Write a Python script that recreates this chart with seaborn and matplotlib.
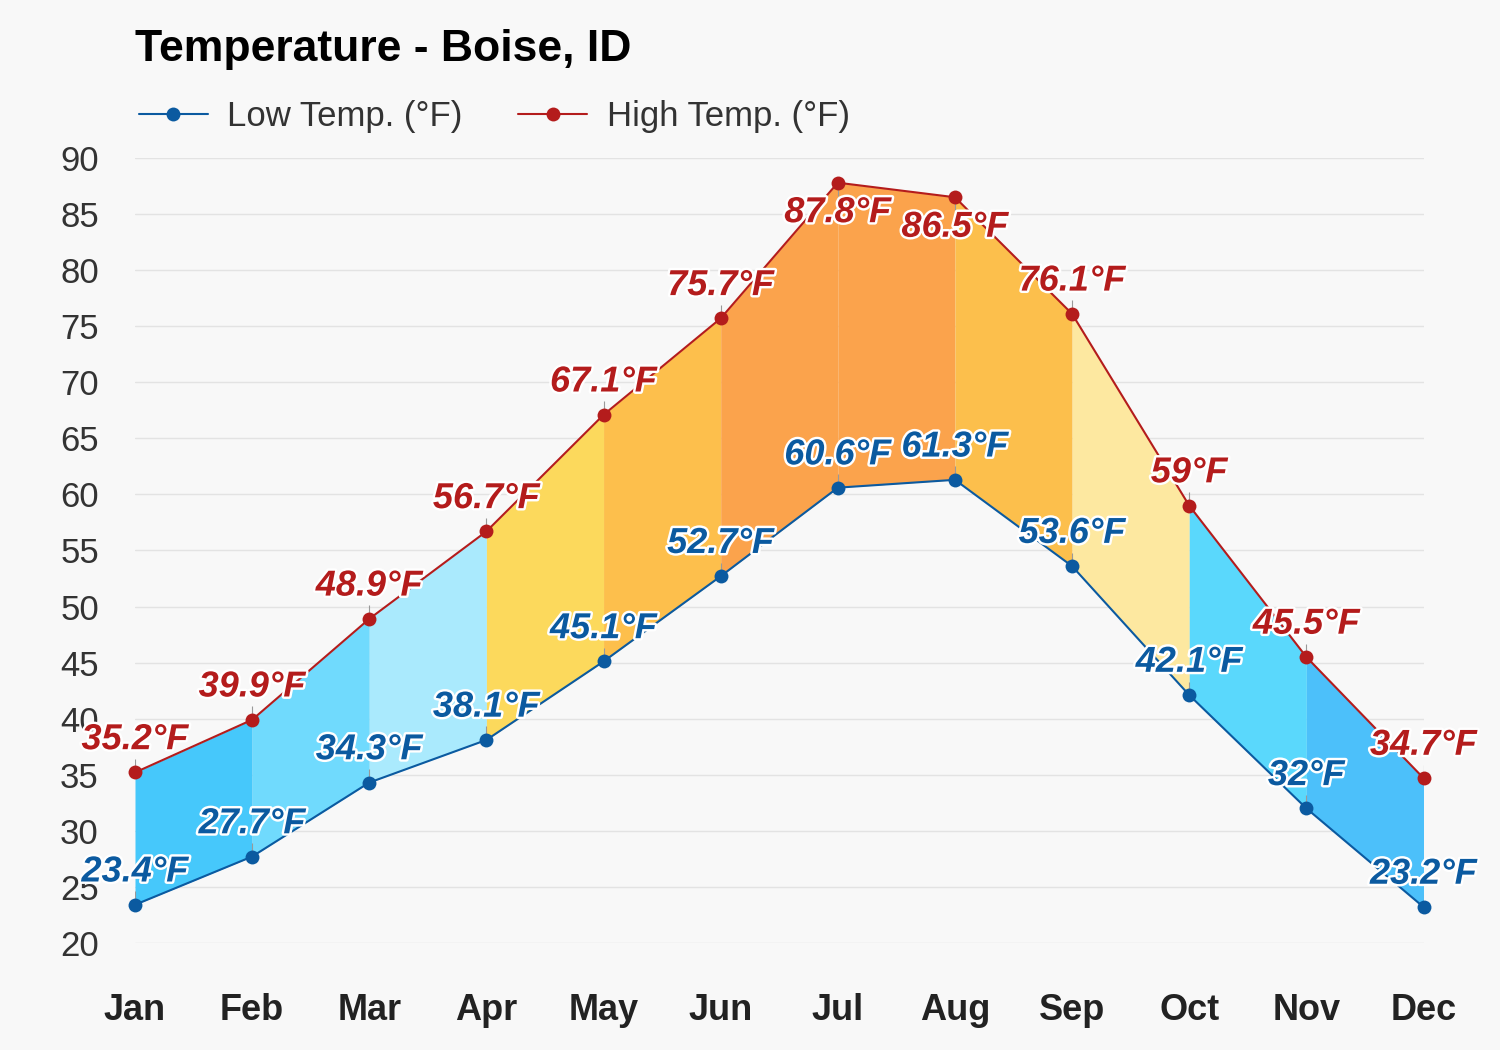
import numpy as np
import pandas as pd
import matplotlib
matplotlib.use("Agg")
import matplotlib.pyplot as plt
import matplotlib.patheffects as pe
import seaborn as sns

# -----------------------------
# Data
# -----------------------------
months = ["Jan", "Feb", "Mar", "Apr", "May", "Jun",
          "Jul", "Aug", "Sep", "Oct", "Nov", "Dec"]
low_temp = [23.4, 27.7, 34.3, 38.1, 45.1, 52.7, 60.6, 61.3, 53.6, 42.1, 32.0, 23.2]
high_temp = [35.2, 39.9, 48.9, 56.7, 67.1, 75.7, 87.8, 86.5, 76.1, 59.0, 45.5, 34.7]
segment_colors = ["#46c8fb", "#70dafd", "#aaeafd", "#fcd95c", "#fdbf4c", "#fba34c",
                  "#fba34c", "#fcbf4c", "#fde8a0", "#5ad8fc", "#4cc0fa"]
y_ticks = [20, 25, 30, 35, 40, 45, 50, 55, 60, 65, 70, 75, 80, 85, 90]

low_color = "#0b5aa0"
high_color = "#b41c1c"

df = pd.DataFrame({"month": months, "x": range(len(months)),
                   "low": low_temp, "high": high_temp})

# -----------------------------
# Style
# -----------------------------
sns.set_theme(style="white")
plt.rcParams["font.family"] = ["Liberation Sans", "DejaVu Sans"]

fig = plt.figure(figsize=(15, 10.5), dpi=100, facecolor="#f8f8f8")
ax = fig.add_axes([0.09, 0.102, 0.859, 0.7475])
ax.set_facecolor("#f8f8f8")

# shaded band, one colour per month-to-month segment
for i, c in enumerate(segment_colors):
    seg = df.iloc[i:i + 2]
    ax.fill_between(seg["x"], seg["low"], seg["high"], color=c, lw=0, zorder=1)

# lines with markers
sns.lineplot(data=df, x="x", y="low", ax=ax, color=low_color, lw=1.5,
             marker="o", markersize=10, markeredgewidth=0, label="Low Temp. (°F)",
             zorder=3, clip_on=False)
sns.lineplot(data=df, x="x", y="high", ax=ax, color=high_color, lw=1.5,
             marker="o", markersize=10, markeredgewidth=0, label="High Temp. (°F)",
             zorder=3, clip_on=False)

# data labels
stroke = [pe.withStroke(linewidth=3.5, foreground="white")]
for xi, v in zip(df["x"], df["low"]):
    ax.vlines(xi, v, v + 1.2, color="#999999", lw=0.8, zorder=2)
    ax.annotate(f"{v:g}°F", (xi, v), xytext=(0, 11), textcoords="offset points",
                ha="center", va="bottom", fontsize=26, fontweight="bold",
                fontstyle="italic", color=low_color, path_effects=stroke, zorder=5)
for xi, v in zip(df["x"], df["high"]):
    below = v > 85
    ax.vlines(xi, v, v + (-1.2 if below else 1.2), color="#999999", lw=0.8, zorder=2)
    ax.annotate(f"{v:g}°F", (xi, v), xytext=(0, -9 if below else 11),
                textcoords="offset points", ha="center",
                va="top" if below else "bottom", fontsize=26, fontweight="bold",
                fontstyle="italic", color=high_color, path_effects=stroke, zorder=5)

# axes
ax.set_xlim(0, 11)
ax.set_ylim(20, 90)
ax.set_yticks(y_ticks)
ax.set_xticks(df["x"])
ax.set_xticklabels(months)
ax.yaxis.grid(True, color="#e3e3e3", lw=1)
ax.xaxis.grid(False)
for s in ax.spines.values():
    s.set_visible(False)
ax.tick_params(axis="y", length=0, pad=26, labelsize=25, labelcolor="#333333")
ax.tick_params(axis="x", length=0, pad=36, labelsize=26, labelcolor="#222222")
for lab in ax.get_xticklabels():
    lab.set_fontweight("bold")
ax.set_xlabel("")
ax.set_ylabel("")

# legend and title
ax.legend(loc="lower left", bbox_to_anchor=(-0.008, 1.014), ncol=2, frameon=False,
          fontsize=25, handlelength=2.0, handletextpad=0.55, columnspacing=1.6,
          borderaxespad=0, labelcolor="#333333")
fig.text(0.09, 0.953, "Temperature - Boise, ID", fontsize=32, fontweight="bold",
         ha="left", va="center", color="#000000")

fig.savefig("out.png", dpi=100, facecolor=fig.get_facecolor())
